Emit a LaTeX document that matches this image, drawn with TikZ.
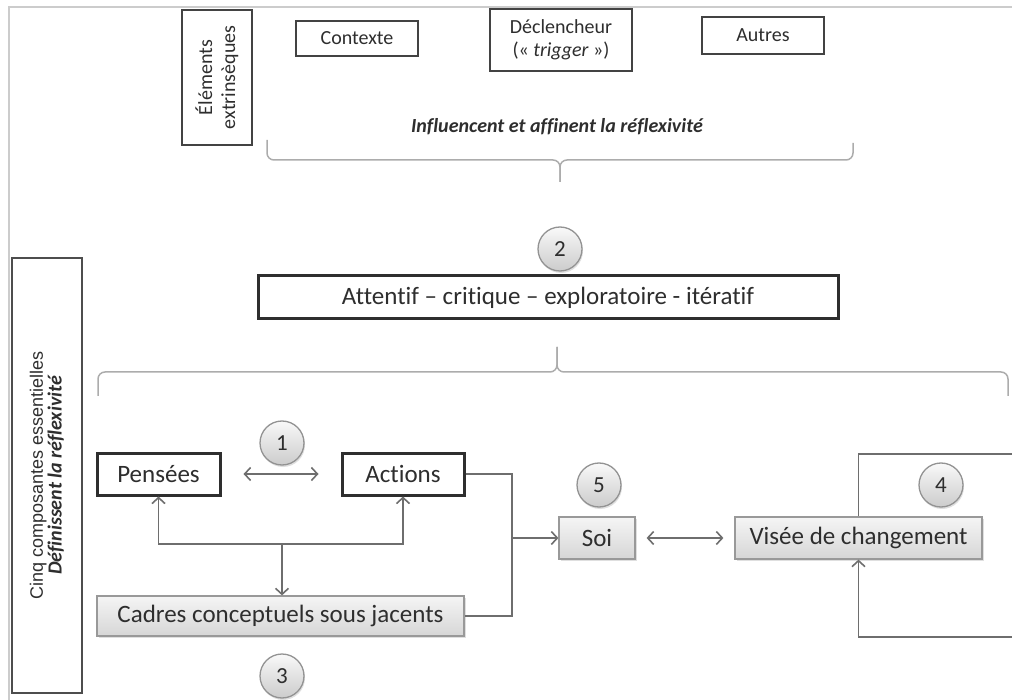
\documentclass[tikz,border=0pt]{standalone}
\usepackage{fontspec}
\setmainfont{Carlito}[Ligatures=NoCommon]
\newfontfamily\helvfont{Liberation Sans}
\usepackage{tikz}
\usetikzlibrary{arrows.meta,shadows}

\definecolor{inkgrey}{HTML}{2E2E2E}
\definecolor{linegrey}{HTML}{6E6E6E}
\definecolor{framegrey}{HTML}{CCCCCC}

\begin{document}
\begin{tikzpicture}[
  x=1pt,y=-1pt,
  every node/.style={text=inkgrey,inner sep=0pt},
  topbox/.style={rectangle,draw=inkgrey!90,line width=1.5pt,font=\fontsize{20}{23}\selectfont,align=center},
  boldbox/.style={rectangle,draw=inkgrey,line width=3pt,fill=white,font=\fontsize{25}{30}\selectfont},
  greybox/.style={rectangle,draw=gray!80,line width=1.2pt,top color=gray!8,bottom color=gray!32,
    drop shadow={opacity=0.25,shadow xshift=1.5pt,shadow yshift=-2pt},font=\fontsize{25}{30}\selectfont},
  num/.style={circle,draw=gray!85,line width=1.3pt,top color=gray!5,bottom color=gray!40,minimum size=44pt,
    drop shadow={opacity=0.25,shadow xshift=1pt,shadow yshift=-2pt},font=\fontsize{23}{26}\selectfont},
  conn/.style={draw=linegrey,line width=1.6pt,arrows={-},>={Straight Barb[length=6pt,width=13pt]}},
  brace/.style={draw=gray!65,line width=1.5pt,rounded corners=7pt},
]
\useasboundingbox (0,0) rectangle (1012,700);
\draw[framegrey,line width=1.2pt] (1012,7) -- (9,7) -- (9,700);

\node[topbox,rotate=90,minimum width=135pt,minimum height=70pt] (ext) at (217,77.5) {Éléments\\extrinsèques};
\node[topbox,minimum width=122pt,minimum height=35pt] (ctx) at (357,38.5) {Contexte};
\node[topbox,minimum width=142pt,minimum height=62pt] (trig) at (561,40) {Déclencheur\\(«~\textit{trigger}~»)};
\node[topbox,minimum width=122pt,minimum height=37pt] (aut) at (763,35.5) {Autres};
\node[font=\fontsize{20}{23}\selectfont\bfseries\itshape] (infl) at (557,127) {Influencent et affinent la réflexivité};
\draw[brace] (267,140) -- (267,160) -- (560,160) -- (560,182);
\draw[brace] (560,182) -- (560,160) -- (853,160) -- (853,143);

\node[num] (n2) at (560,249) {2};
\node[boldbox,minimum width=580pt,minimum height=43pt] (att) at (548,297.5)
  {Attentif – critique – exploratoire - itératif};
\draw[brace] (98,396) -- (98,372) -- (557,372) -- (557,347);
\draw[brace] (557,347) -- (557,372) -- (1008,372) -- (1008,396);

\node[rectangle,draw=inkgrey!85,line width=1.5pt,rotate=90,minimum width=435pt,minimum height=70pt,align=center]
  (five) at (47,475.5) {{\helvfont\fontsize{18}{24}\selectfont Cinq composantes essentielles}\\
  {\fontsize{20}{24}\selectfont\bfseries\itshape Définissent la réflexivité}};

\node[num] (n1) at (282,443) {1};
\node[boldbox,minimum width=123pt,minimum height=42pt] (pens) at (158.5,474) {Pensées};
\node[boldbox,minimum width=122pt,minimum height=42pt] (act) at (403,474) {Actions};
\node[greybox,minimum width=367pt,minimum height=40pt] (cad) at (280.5,616) {Cadres conceptuels sous jacents};
\node[num] (n3) at (282,676) {3};
\node[num] (n5) at (599,485) {5};
\node[greybox,minimum width=76pt,minimum height=42pt] (soi) at (597,538) {Soi};
\node[num] (n4) at (941,485) {4};
\node[greybox,minimum width=247pt,minimum height=42pt] (vis) at (858.5,538) {Visée de changement};

\coordinate (mid) at (282,544);
\coordinate (jn) at (512,538);
\coordinate (loopup) at (1012,454);
\coordinate (loopdown) at (1012,637);

\draw[conn,<->,shorten <=22pt,shorten >=22pt] (pens) -- (act);
\draw[conn,<->] (pens.south) |- (mid) -| (act.south);
\draw[conn,->] (mid) -- (mid |- cad.north);
\draw[conn] (act.east) -| (jn) |- (cad.east);
\draw[conn,->] (jn) -- (soi.west);
\draw[conn,<->,shorten <=11pt,shorten >=11pt] (soi) -- (vis);
\draw[conn] (vis.north) |- (loopup);
\draw[conn,->] (loopdown) -| (vis.south);
\end{tikzpicture}
\end{document}
